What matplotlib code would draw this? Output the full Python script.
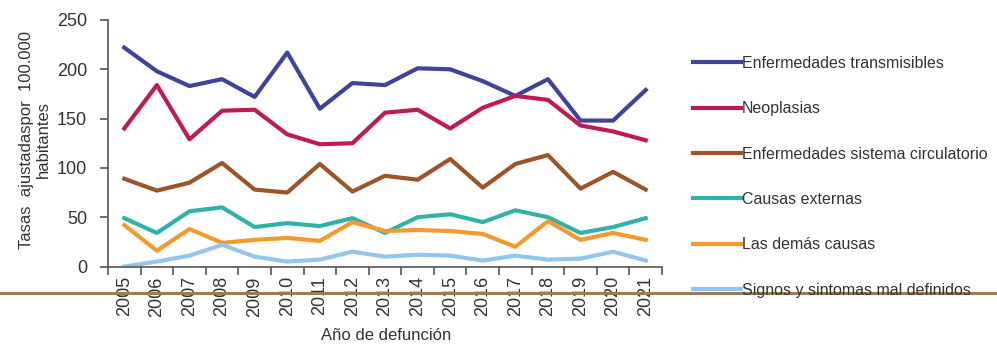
import matplotlib
matplotlib.use("Agg")
import matplotlib.pyplot as plt
from matplotlib.lines import Line2D
import numpy as np

# ===== DATA =====
years = [str(y) for y in range(2005, 2022)]

transmisibles = [222, 198, 183, 190, 172, 217, 160, 186, 184, 201, 200, 188, 173, 190, 148, 148, 179]
neoplasias = [140, 184, 129, 158, 159, 134, 124, 125, 156, 159, 140, 161, 173, 169, 143, 137, 128]
circulatorio = [89, 77, 85, 105, 78, 75, 104, 76, 92, 88, 109, 80, 104, 113, 79, 96, 78]
externas = [49, 34, 56, 60, 40, 44, 41, 49, 34, 50, 53, 45, 57, 50, 34, 40, 49]
demas = [42, 16, 38, 24, 27, 29, 26, 45, 36, 37, 36, 33, 20, 46, 27, 34, 27]
signos = [0, 5, 11, 22, 10, 5, 7, 15, 10, 12, 11, 6, 11, 7, 8, 15, 6]

series_labels = [
    "Enfermedades transmisibles",
    "Neoplasias",
    "Enfermedades sistema circulatorio",
    "Causas externas",
    "Las demás causas",
    "Signos y sintomas mal definidos",
]
series_values = [transmisibles, neoplasias, circulatorio, externas, demas, signos]
series_colors = ["#3f4399", "#c01a56", "#9c5428", "#2fb3a9", "#f29a2e", "#93c6ec"]

FONT = ["Liberation Sans", "DejaVu Sans"]
plt.rcParams["font.family"] = FONT
TXT = "#333333"

# ===== FIGURE =====
fig = plt.figure(figsize=(9.97, 3.47), dpi=100)
ax = fig.add_axes([108 / 997, 1 - 266.5 / 347, (662 - 108) / 997, (266.5 - 20) / 347])

x = np.arange(len(years))
for vals, lab, col in zip(series_values, series_labels, series_colors):
    ax.plot(x, vals, "-", lw=3, color=col, label=lab, solid_joinstyle="round")

ax.set_xlim(-0.5, len(years) - 0.5)
ax.set_ylim(0, 250)
ax.set_yticks([0, 50, 100, 150, 200, 250])
ax.set_xticks(x)
ax.set_xticklabels(years, rotation=90, fontsize=13, color=TXT)
ax.set_xticks(np.arange(-0.5, len(years)), minor=True)
ax.tick_params(axis="x", which="major", length=0, pad=7)
ax.tick_params(axis="x", which="minor", length=6, width=1.2, color="#555555")
ax.tick_params(axis="y", length=6, width=1.2, color="#555555", labelsize=13,
               labelcolor=TXT, pad=9)

for s in ["top", "right"]:
    ax.spines[s].set_visible(False)
for s in ["left", "bottom"]:
    ax.spines[s].set_color("#555555")
    ax.spines[s].set_linewidth(1.2)

fig.text(386 / 997, 1 - 335 / 347, "Año de defunción", ha="center", va="center",
         fontsize=12, color=TXT)
fig.text(35 / 997, 1 - 140 / 347, "Tasas  ajustadaspor  100.000\nhabitantes",
         rotation=90, ha="center", va="center", multialignment="center",
         fontsize=12, color=TXT, linespacing=1.15)

handles, labels = ax.get_legend_handles_labels()
fig.legend(handles, labels, loc="upper left", bbox_to_anchor=(693 / 997, 1 - 56 / 347),
           frameon=False, fontsize=11.5, handlelength=3.0, handletextpad=0.05,
           labelspacing=1.9, borderpad=0, borderaxespad=0, labelcolor=TXT)

# scanned page rule crossing the figure
fig.add_artist(Line2D([0, 1], [1 - 293 / 347, 1 - 293 / 347], transform=fig.transFigure,
                      color="#9c7c55", lw=2.2))

fig.savefig("out.png", dpi=100)
